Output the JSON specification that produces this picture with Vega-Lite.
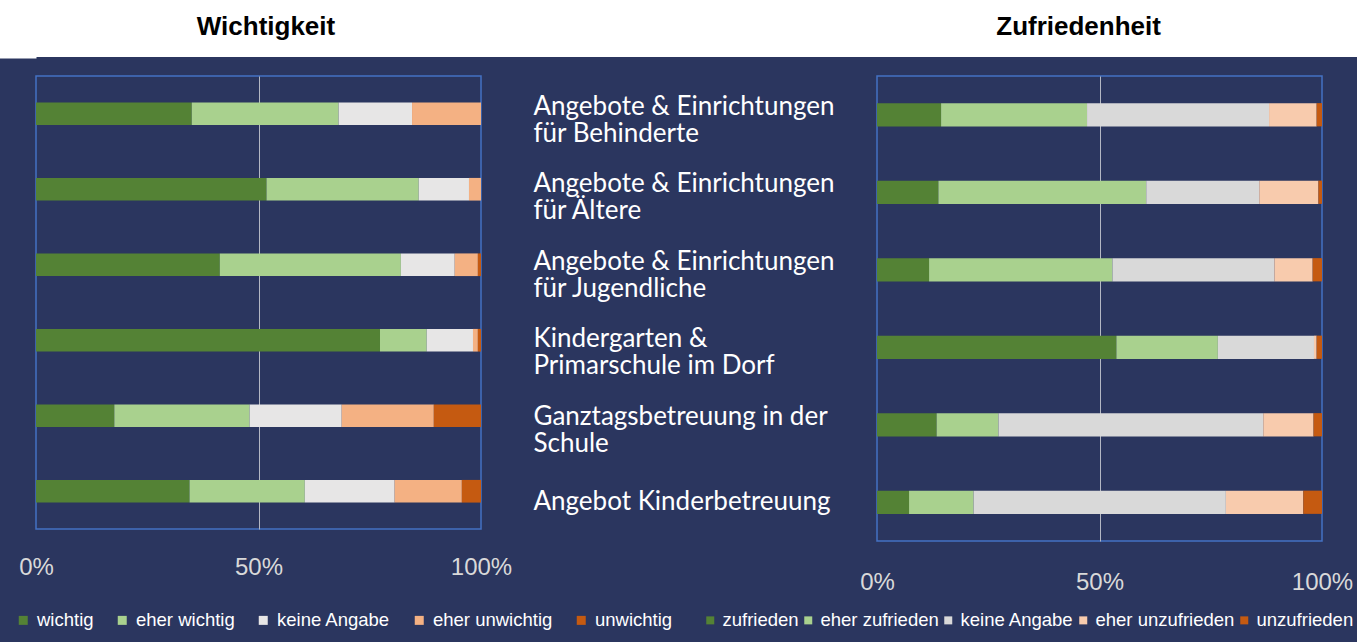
{
  "$schema": "https://vega.github.io/schema/vega-lite/v6.json",
  "background": "#2b365f",
  "padding": {"left": 0, "top": 0, "right": 0, "bottom": 12},
  "spacing": 19,
  "columns": 1,
  "bounds": "flush",
  "datasets": {
    "titel": [{"titel": "Wichtigkeit"}, {"titel": "Zufriedenheit"}],
    "w": [
      {"item": "Angebote & Einrichtungen|für Behinderte", "antwort": "wichtig", "wert": 35.0},
      {"item": "Angebote & Einrichtungen|für Behinderte", "antwort": "eher wichtig", "wert": 33.0},
      {"item": "Angebote & Einrichtungen|für Behinderte", "antwort": "keine Angabe", "wert": 16.5},
      {"item": "Angebote & Einrichtungen|für Behinderte", "antwort": "eher unwichtig", "wert": 15.5},
      {"item": "Angebote & Einrichtungen|für Behinderte", "antwort": "unwichtig", "wert": 0},
      {"item": "Angebote & Einrichtungen|für Ältere", "antwort": "wichtig", "wert": 51.8},
      {"item": "Angebote & Einrichtungen|für Ältere", "antwort": "eher wichtig", "wert": 34.2},
      {"item": "Angebote & Einrichtungen|für Ältere", "antwort": "keine Angabe", "wert": 11.3},
      {"item": "Angebote & Einrichtungen|für Ältere", "antwort": "eher unwichtig", "wert": 2.7},
      {"item": "Angebote & Einrichtungen|für Ältere", "antwort": "unwichtig", "wert": 0},
      {"item": "Angebote & Einrichtungen|für Jugendliche", "antwort": "wichtig", "wert": 41.3},
      {"item": "Angebote & Einrichtungen|für Jugendliche", "antwort": "eher wichtig", "wert": 40.7},
      {"item": "Angebote & Einrichtungen|für Jugendliche", "antwort": "keine Angabe", "wert": 12.1},
      {"item": "Angebote & Einrichtungen|für Jugendliche", "antwort": "eher unwichtig", "wert": 5.2},
      {"item": "Angebote & Einrichtungen|für Jugendliche", "antwort": "unwichtig", "wert": 0.7},
      {"item": "Kindergarten &|Primarschule im Dorf", "antwort": "wichtig", "wert": 77.3},
      {"item": "Kindergarten &|Primarschule im Dorf", "antwort": "eher wichtig", "wert": 10.5},
      {"item": "Kindergarten &|Primarschule im Dorf", "antwort": "keine Angabe", "wert": 10.4},
      {"item": "Kindergarten &|Primarschule im Dorf", "antwort": "eher unwichtig", "wert": 1.1},
      {"item": "Kindergarten &|Primarschule im Dorf", "antwort": "unwichtig", "wert": 0.7},
      {"item": "Ganztagsbetreuung in der|Schule", "antwort": "wichtig", "wert": 17.6},
      {"item": "Ganztagsbetreuung in der|Schule", "antwort": "eher wichtig", "wert": 30.4},
      {"item": "Ganztagsbetreuung in der|Schule", "antwort": "keine Angabe", "wert": 20.7},
      {"item": "Ganztagsbetreuung in der|Schule", "antwort": "eher unwichtig", "wert": 20.7},
      {"item": "Ganztagsbetreuung in der|Schule", "antwort": "unwichtig", "wert": 10.6},
      {"item": "Angebot Kinderbetreuung", "antwort": "wichtig", "wert": 34.5},
      {"item": "Angebot Kinderbetreuung", "antwort": "eher wichtig", "wert": 25.9},
      {"item": "Angebot Kinderbetreuung", "antwort": "keine Angabe", "wert": 20.2},
      {"item": "Angebot Kinderbetreuung", "antwort": "eher unwichtig", "wert": 15.1},
      {"item": "Angebot Kinderbetreuung", "antwort": "unwichtig", "wert": 4.3}
    ],
    "z": [
      {"item": "Angebote & Einrichtungen|für Behinderte", "antwort": "zufrieden", "wert": 14.4},
      {"item": "Angebote & Einrichtungen|für Behinderte", "antwort": "eher zufrieden", "wert": 32.8},
      {"item": "Angebote & Einrichtungen|für Behinderte", "antwort": "keine Angabe", "wert": 40.9},
      {"item": "Angebote & Einrichtungen|für Behinderte", "antwort": "eher unzufrieden", "wert": 10.7},
      {"item": "Angebote & Einrichtungen|für Behinderte", "antwort": "unzufrieden", "wert": 1.2},
      {"item": "Angebote & Einrichtungen|für Ältere", "antwort": "zufrieden", "wert": 13.8},
      {"item": "Angebote & Einrichtungen|für Ältere", "antwort": "eher zufrieden", "wert": 46.7},
      {"item": "Angebote & Einrichtungen|für Ältere", "antwort": "keine Angabe", "wert": 25.4},
      {"item": "Angebote & Einrichtungen|für Ältere", "antwort": "eher unzufrieden", "wert": 13.3},
      {"item": "Angebote & Einrichtungen|für Ältere", "antwort": "unzufrieden", "wert": 0.8},
      {"item": "Angebote & Einrichtungen|für Jugendliche", "antwort": "zufrieden", "wert": 11.7},
      {"item": "Angebote & Einrichtungen|für Jugendliche", "antwort": "eher zufrieden", "wert": 41.2},
      {"item": "Angebote & Einrichtungen|für Jugendliche", "antwort": "keine Angabe", "wert": 36.4},
      {"item": "Angebote & Einrichtungen|für Jugendliche", "antwort": "eher unzufrieden", "wert": 8.6},
      {"item": "Angebote & Einrichtungen|für Jugendliche", "antwort": "unzufrieden", "wert": 2.1},
      {"item": "Kindergarten &|Primarschule im Dorf", "antwort": "zufrieden", "wert": 53.8},
      {"item": "Kindergarten &|Primarschule im Dorf", "antwort": "eher zufrieden", "wert": 22.8},
      {"item": "Kindergarten &|Primarschule im Dorf", "antwort": "keine Angabe", "wert": 21.6},
      {"item": "Kindergarten &|Primarschule im Dorf", "antwort": "eher unzufrieden", "wert": 0.6},
      {"item": "Kindergarten &|Primarschule im Dorf", "antwort": "unzufrieden", "wert": 1.2},
      {"item": "Ganztagsbetreuung in der|Schule", "antwort": "zufrieden", "wert": 13.4},
      {"item": "Ganztagsbetreuung in der|Schule", "antwort": "eher zufrieden", "wert": 13.9},
      {"item": "Ganztagsbetreuung in der|Schule", "antwort": "keine Angabe", "wert": 59.5},
      {"item": "Ganztagsbetreuung in der|Schule", "antwort": "eher unzufrieden", "wert": 11.3},
      {"item": "Ganztagsbetreuung in der|Schule", "antwort": "unzufrieden", "wert": 1.9},
      {"item": "Angebot Kinderbetreuung", "antwort": "zufrieden", "wert": 7.2},
      {"item": "Angebot Kinderbetreuung", "antwort": "eher zufrieden", "wert": 14.5},
      {"item": "Angebot Kinderbetreuung", "antwort": "keine Angabe", "wert": 56.7},
      {"item": "Angebot Kinderbetreuung", "antwort": "eher unzufrieden", "wert": 17.4},
      {"item": "Angebot Kinderbetreuung", "antwort": "unzufrieden", "wert": 4.2}
    ]
  },
  "concat": [
    {
      "data": {"name": "titel"},
      "width": 1321,
      "height": 57,
      "view": {"fill": "#ffffff", "stroke": null},
      "mark": {"type": "text", "font": "Liberation Sans", "fontSize": 26, "fontWeight": "bold", "color": "#000000"},
      "encoding": {
        "x": {"field": "titel", "type": "nominal", "sort": null, "axis": null,
              "scale": {"type": "band", "paddingInner": 0.434, "paddingOuter": 0.0298, "align": 0}},
        "y": {"datum": "Titel", "type": "nominal",
              "scale": {"type": "point", "padding": 0.5, "range": [-4, 58]},
              "axis": {"orient": "left", "labels": false, "ticks": false, "grid": false, "title": null,
                       "domain": true, "domainColor": "#ffffff", "domainWidth": 72, "domainCap": "butt", "offset": 36}},
        "text": {"field": "titel"}
      }
    },
    {
      "hconcat": [
        {
          "data": {"name": "w"},
          "width": 445,
          "height": 453,
          "view": {"fill": "#2b365f", "stroke": "#4472c4", "strokeWidth": 1.5},
          "transform": [
            {"calculate": "indexof(['wichtig','eher wichtig','keine Angabe','eher unwichtig','unwichtig'], datum.antwort)", "as": "rang"}
          ],
          "mark": {"type": "bar"},
          "encoding": {
            "y": {
              "field": "item", "type": "nominal",
              "sort": ["Angebote & Einrichtungen|für Behinderte", "Angebote & Einrichtungen|für Ältere", "Angebote & Einrichtungen|für Jugendliche", "Kindergarten &|Primarschule im Dorf", "Ganztagsbetreuung in der|Schule", "Angebot Kinderbetreuung"],
              "scale": {"paddingInner": 0.7, "paddingOuter": 0.35},
              "axis": null
            },
            "x": {
              "field": "wert", "type": "quantitative", "stack": "normalize",
              "axis": {
                "values": [0, 0.5, 1], "format": ".0%", "title": null,
                "labelFont": "Liberation Sans",
                "labelFontSize": 24, "labelColor": "#d9d9d9", "labelFlush": false,
                "labelPadding": 38, "labelBaseline": "middle",
                "ticks": false, "tickSize": 0, "domain": false,
                "grid": true, "gridWidth": 1,
                "gridColor": {"condition": {"test": "datum.value === 0.5", "value": "#b4b8c4"}, "value": "transparent"}
              }
            },
            "color": {
              "field": "antwort", "type": "nominal",
              "scale": {
                "domain": ["wichtig", "eher wichtig", "keine Angabe", "eher unwichtig", "unwichtig"],
                "range": ["#548235", "#a9d18e", "#e7e6e6", "#f4b183", "#c55a11"]
              },
              "legend": {
                "orient": "none", "legendX": -22, "legendY": 535, "direction": "horizontal", "title": null,
                "symbolType": "square", "symbolSize": 81, "symbolStrokeWidth": 0,
                "labelFont": "Liberation Sans",
                "labelFontSize": 18.5, "labelColor": "#ffffff", "labelOffset": 4.5, "columnPadding": 19
              }
            },
            "order": {"field": "rang", "type": "quantitative"}
          }
        },
        {
          "data": {"name": "z"},
          "width": 445,
          "height": 465,
          "view": {"fill": "#2b365f", "stroke": "#4472c4", "strokeWidth": 1.5},
          "transform": [
            {"calculate": "indexof(['zufrieden','eher zufrieden','keine Angabe','eher unzufrieden','unzufrieden'], datum.antwort)", "as": "rang"}
          ],
          "mark": {"type": "bar"},
          "encoding": {
            "y": {
              "field": "item", "type": "nominal",
              "sort": ["Angebote & Einrichtungen|für Behinderte", "Angebote & Einrichtungen|für Ältere", "Angebote & Einrichtungen|für Jugendliche", "Kindergarten &|Primarschule im Dorf", "Ganztagsbetreuung in der|Schule", "Angebot Kinderbetreuung"],
              "scale": {"paddingInner": 0.7, "paddingOuter": 0.35},
              "axis": {
                "orient": "left", "title": null, "ticks": false, "tickSize": 0, "domain": false, "grid": false,
                "labelAlign": "left", "labelPadding": 344,
                "labelBaseline": {"condition": {"test": "indexof(datum.value, '|') >= 0", "value": "alphabetic"}, "value": "middle"},
                "labelFont": "Lato", "labelFontSize": 26, "labelColor": "#ffffff",
                "labelLimit": 500, "labelLineHeight": 27,
                "labelExpr": "split(datum.label, '|')"
              }
            },
            "x": {
              "field": "wert", "type": "quantitative", "stack": "normalize",
              "axis": {
                "values": [0, 0.5, 1], "format": ".0%", "title": null,
                "labelFont": "Liberation Sans",
                "labelFontSize": 24, "labelColor": "#d9d9d9", "labelFlush": false,
                "labelPadding": 41, "labelBaseline": "middle",
                "ticks": false, "tickSize": 0, "domain": false,
                "grid": true, "gridWidth": 1,
                "gridColor": {"condition": {"test": "datum.value === 0.5", "value": "#b4b8c4"}, "value": "transparent"}
              }
            },
            "color": {
              "field": "antwort", "type": "nominal",
              "scale": {
                "domain": ["zufrieden", "eher zufrieden", "keine Angabe", "eher unzufrieden", "unzufrieden"],
                "range": ["#548235", "#a9d18e", "#d9d9d9", "#f8cbad", "#c55a11"]
              },
              "legend": {
                "orient": "none", "legendX": -176, "legendY": 535, "direction": "horizontal", "title": null,
                "symbolType": "square", "symbolSize": 64, "symbolStrokeWidth": 0,
                "labelFont": "Liberation Sans",
                "labelFontSize": 18.5, "labelColor": "#ffffff", "labelOffset": 3, "columnPadding": 0
              }
            },
            "order": {"field": "rang", "type": "quantitative"}
          }
        }
      ],
      "spacing": 396,
      "bounds": "flush",
      "resolve": {"scale": {"x": "independent", "y": "independent", "color": "independent"}, "legend": {"color": "independent"}, "axis": {"x": "independent", "y": "independent"}}
    }
  ]
}
